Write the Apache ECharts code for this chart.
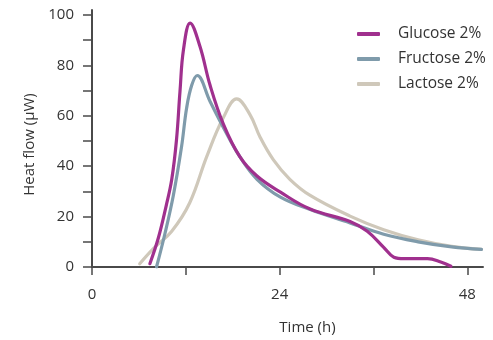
<!DOCTYPE html>
<html>
<head>
<meta charset="utf-8">
<script src="https://cdn.jsdelivr.net/npm/echarts@6/dist/echarts.min.js"></script>
<style>
  html, body { margin: 0; padding: 0; background: #fff; }
  #chart { width: 493px; height: 340px; }
</style>
</head>
<body>
<div id="chart"></div>
<script>
// values: [time (h), heat flow (µW)]
const glucose = [
  [7.4, 1.3], [8.5, 11.7], [9.5, 24.5], [10.2, 34.8], [10.8, 50.3], [11.25, 69.6],
  [11.7, 86.3], [12.55, 96.8], [13.8, 87.6], [15.1, 72.1], [16.8, 56.7], [18.9, 43.8],
  [21.1, 36.1], [24.1, 29.7], [27.9, 23], [33.0, 18.1], [35.2, 14.2],
  [37.3, 7.8], [38.6, 3.9], [39.9, 3.3], [42.9, 3.3], [44.6, 2.0], [45.9, 0.3]
];
const fructose = [
  [8.25, 0], [9.3, 12.9], [10.4, 28.4], [11.45, 47.7], [12.1, 63.1], [12.75, 72.1],
  [13.45, 76], [15.1, 65.7], [16.8, 55.4], [18.9, 43.8], [21.1, 34.8], [24.1, 27.7],
  [27.9, 22.8], [33.0, 17.5], [37.3, 13], [41.7, 10], [46, 8], [49.8, 7]
];
const lactose = [
  [6.1, 1.3], [8.0, 7.8], [10.2, 14.2], [12.5, 25.5], [14.67, 43.8], [16.8, 59.3],
  [18.5, 66.7], [20.2, 60.5], [21.5, 51.5], [23.2, 42.5], [25.3, 34.8], [27.9, 28.4],
  [33.0, 20.2], [37.3, 14.8], [41.7, 10.8], [46, 8.2], [49.8, 7]
];
const seriesNames = ['Glucose 2%', 'Fructose 2%', 'Lactose 2%'];
const seriesColors = ['#a0308e', '#7f9bab', '#cfc8ba'];

const xTicks = [0, 12, 24, 36, 48];
const xLabels = [0, 24, 48];
const yTicks = [0, 10, 20, 30, 40, 50, 60, 70, 80, 90, 100];
const yLabels = [0, 20, 40, 60, 80, 100];

const font = 'Open Sans';
const axisColor = '#4a4a4a';

const chart = echarts.init(document.getElementById('chart'));

chart.setOption({
  animation: false,
  textStyle: { fontFamily: font },
  grid: { left: 92, right: 10, top: 10, bottom: 66 },
  legend: {
    top: 21,
    left: 352,
    orient: 'vertical',
    itemWidth: 23,
    itemHeight: 4,
    itemGap: 9,
    icon: 'roundRect',
    textStyle: { fontFamily: font, fontSize: 15.5, color: '#333', padding: [0, 0, 0, 13] },
    data: seriesNames
  },
  xAxis: {
    type: 'value',
    min: 0,
    max: 50,
    name: 'Time (h)',
    nameLocation: 'middle',
    nameGap: 53,
    nameTextStyle: { fontFamily: font, fontSize: 15, color: '#333', padding: [0, 0, 0, 40] },
    axisLine: { show: true, onZero: false, lineStyle: { color: axisColor, width: 2 } },
    axisTick: { show: true, length: 8, customValues: xTicks, lineStyle: { color: axisColor, width: 1.5 } },
    axisLabel: { customValues: xLabels, margin: 20, fontFamily: font, fontSize: 15, color: '#333' },
    splitLine: { show: false }
  },
  yAxis: {
    type: 'value',
    min: 0,
    max: 102,
    name: 'Heat flow (µW)',
    nameLocation: 'middle',
    nameRotate: 90,
    nameGap: 44,
    nameTextStyle: { fontFamily: font, fontSize: 15, color: '#333', padding: [0, 0, 0, -12] },
    axisLine: { show: true, lineStyle: { color: axisColor, width: 2 } },
    axisTick: { show: true, length: 9, customValues: yTicks, lineStyle: { color: axisColor, width: 1.5 } },
    axisLabel: { customValues: yLabels, margin: 18, fontFamily: font, fontSize: 15, color: '#333' },
    splitLine: { show: false }
  },
  series: [glucose, fructose, lactose].map((d, i) => ({
    name: seriesNames[i],
    type: 'line',
    data: d,
    smooth: 0.4,
    showSymbol: false,
    z: 3 - i,
    color: seriesColors[i],
    lineStyle: { width: 3.2, color: seriesColors[i], cap: 'round', join: 'round' }
  }))
});
</script>
</body>
</html>
